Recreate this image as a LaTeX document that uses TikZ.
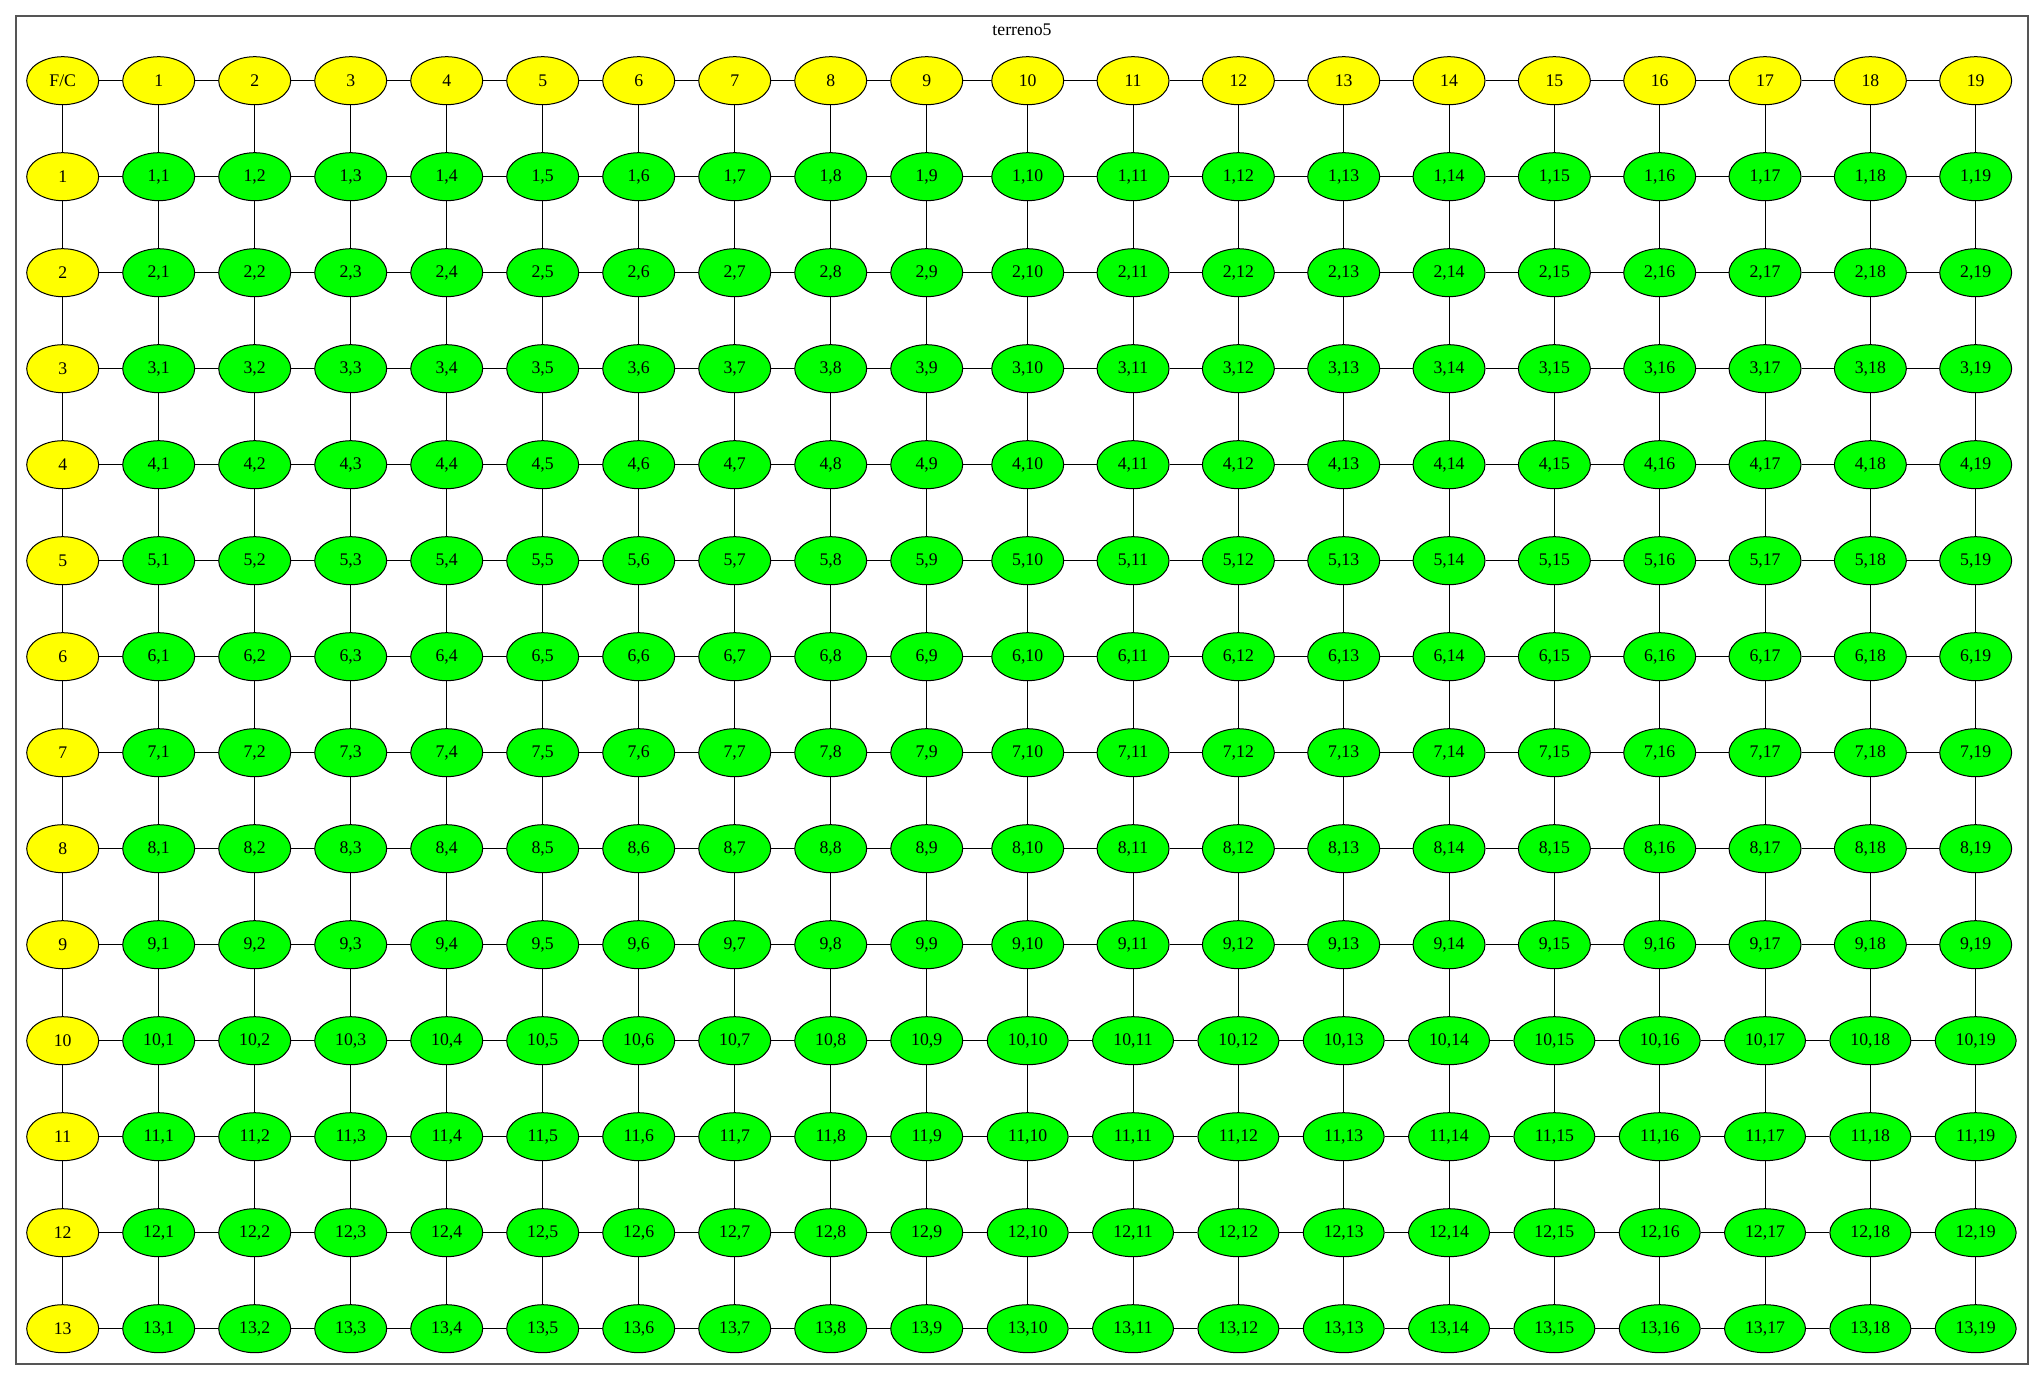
\documentclass[tikz,border=0pt]{standalone}
\usepackage{fontspec}
\setmainfont{Liberation Serif}
\usetikzlibrary{shapes.geometric}
\definecolor{hdr}{HTML}{FFFF00}
\definecolor{cell}{HTML}{00FF00}
\definecolor{frame}{HTML}{555555}
\tikzset{
  tnode/.style={ellipse, draw=black, fill=#1, line width=0.75pt, minimum width=54pt,
    minimum height=36pt, inner sep=0pt, font=\fontsize{13.3}{14}\selectfont},
  tnode/.default=cell,
  link/.style={line width=0.75pt, color=black},
  ttl/.style={font=\fontsize{13.3}{14}\selectfont},
}

\begin{document}
\begin{tikzpicture}[x=0.75pt,y=-0.75pt]
  \useasboundingbox (0,0) rectangle (2044,1380);
  \draw[frame,line width=1pt] (16,16) rectangle (2028,1364);
  \node[ttl] (title) at (1022,30) {terreno5};
  % header row and first column
  \node[tnode=hdr] (n-0-0) at (62.7,80.7) {F/C};
  \foreach \c in {1,...,19} {
    \pgfmathsetmacro\xx{\c<10 ? 62.7+96*\c : 1027.7+105.33*(\c-10)}
    \node[tnode=hdr] (n-0-\c) at (\xx,80.7) {\c};
  }
  \foreach \r in {1,...,13} {
    \pgfmathsetmacro\yy{80.7+96*\r}
    \node[tnode=hdr] (n-\r-0) at (62.7,\yy) {\r};
  }
  % grid cells
  \foreach \r in {1,...,13} {
    \foreach \c in {1,...,19} {
      \pgfmathsetmacro\xx{\c<10 ? 62.7+96*\c : 1027.7+105.33*(\c-10)}
      \pgfmathsetmacro\yy{80.7+96*\r}
      \pgfmathsetmacro\ww{and(\r>9,\c>9) ? 60.75 : 54}
      \node[tnode, minimum width=\ww pt] (n-\r-\c) at (\xx,\yy) {\r,\c};
    }
  }
  % connectors
  \foreach \r in {0,...,13}
    \foreach \c [count=\d from 1] in {0,...,18}
      \draw[link] (n-\r-\c) -- (n-\r-\d);
  \foreach \r [count=\s from 1] in {0,...,12}
    \foreach \c in {0,...,19}
      \draw[link] (n-\r-\c) -- (n-\s-\c);
\end{tikzpicture}
\end{document}
